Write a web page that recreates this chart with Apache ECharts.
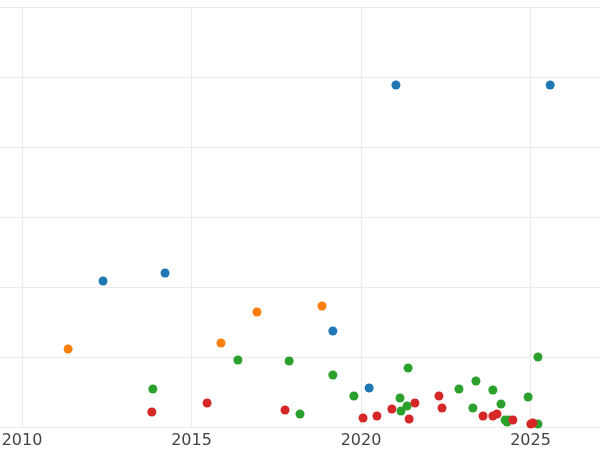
<!DOCTYPE html>
<html>
<head>
<meta charset="UTF-8">
<script src="https://cdn.jsdelivr.net/npm/echarts@6/dist/echarts.min.js"></script>
<style>body{margin:0}</style>
</head>
<body>
<div id="chart" style="width:600px;height:450px"></div>
<script>
// [year, value] per group
var blue = [[2021.03,4.886],[2025.58,4.886],[2012.39,2.086],[2014.22,2.2],[2019.17,1.371],[2020.24,0.557]];
var orange = [[2011.36,1.114],[2015.87,1.2],[2016.93,1.643],[2018.85,1.729]];
var green = [[2013.86,0.543],[2016.37,0.957],[2017.88,0.943],[2018.2,0.186],[2019.17,0.743],[2019.79,0.443],
    [2021.39,0.843],[2021.15,0.414],[2021.18,0.229],[2021.36,0.3],[2022.89,0.543],[2023.39,0.657],[2023.3,0.271],
    [2023.89,0.529],[2024.13,0.329],[2024.25,0.1],[2024.37,0.1],[2024.93,0.429],[2025.22,1.0],[2025.22,0.043],[2024.31,0.071]];
var red = [[2013.83,0.214],[2015.46,0.343],[2017.76,0.243],[2020.06,0.129],[2020.47,0.157],[2020.91,0.257],
    [2021.59,0.343],[2021.42,0.114],[2022.3,0.443],[2022.39,0.271],[2023.6,0.157],[2023.89,0.157],[2024.01,0.186],
    [2024.48,0.1],[2025.07,0.057],[2025.01,0.043]];
var colors = ['#1f77b4', '#ff7f0e', '#2ca02c', '#d62728'];

function mk(data, i) {
    return { type: 'scatter', data: data, symbolSize: 9, itemStyle: { color: colors[i], opacity: 1 } };
}

var chart = echarts.init(document.getElementById('chart'));
chart.setOption({
    animation: false,
    grid: { left: -147.5, right: -100, top: 7, bottom: 23, outerBoundsMode: 'none', containLabel: false },
    xAxis: {
        type: 'value', min: 2005, max: 2030, interval: 5,
        axisLine: { show: false }, axisTick: { show: false },
        axisLabel: { color: '#444', fontSize: 16, fontFamily: 'DejaVu Sans', margin: 6,
            formatter: function (v) { return String(v); } },
        splitLine: { lineStyle: { color: '#ebebeb' } }
    },
    yAxis: {
        type: 'value', min: 0, max: 6, interval: 1,
        axisLine: { show: false }, axisTick: { show: false }, axisLabel: { show: false },
        splitLine: { lineStyle: { color: '#ebebeb' } }
    },
    series: [mk(blue, 0), mk(orange, 1), mk(green, 2), mk(red, 3)]
});
</script>
</body>
</html>
